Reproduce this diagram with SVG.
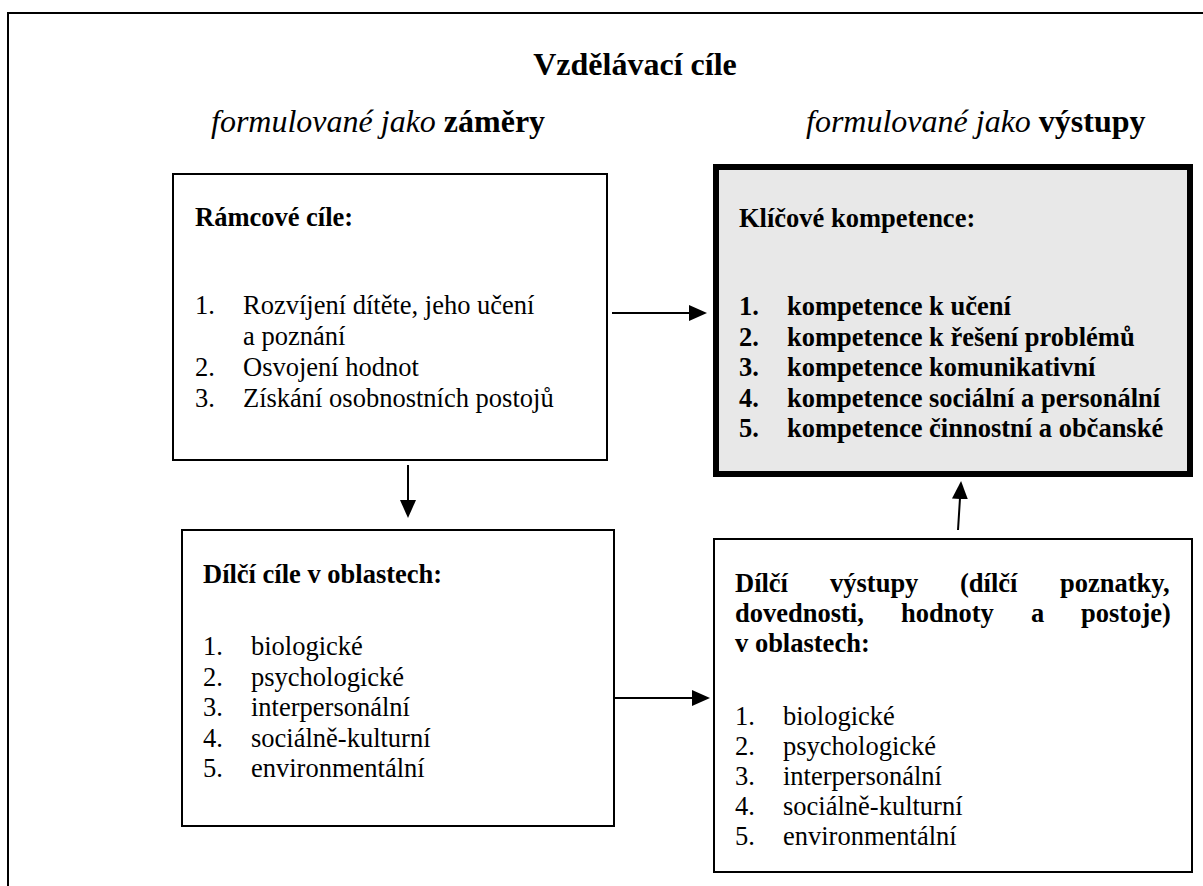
<svg xmlns="http://www.w3.org/2000/svg" width="1203" height="886" viewBox="0 0 1203 886">
  <style>
    text { font-family: "Liberation Serif", "Times New Roman", serif; fill: #000; }
    .t { font-size: 32px; }
    .b { font-size: 26.5px; font-weight: bold; }
    .r { font-size: 26.5px; }
    .box { fill: #fff; stroke: #000; stroke-width: 2; }
    .key { fill: #e8e8e8; stroke: #000; stroke-width: 6; }
    .conn { stroke: #000; stroke-width: 2; fill: none; }
  </style>
  <defs>
    <marker id="ah" viewBox="0 0 18 16" refX="1" refY="8" markerWidth="18" markerHeight="16" markerUnits="userSpaceOnUse" orient="auto">
      <path d="M0,0 L18,8 L0,16 Z" fill="#000"/>
    </marker>
  </defs>
  <rect width="1203" height="886" fill="#fff"/>
  <path d="M8,890 V13 H1210" fill="none" stroke="#000" stroke-width="2"/>

  <g id="title">
    <text class="t" x="635" y="75" text-anchor="middle" font-weight="bold">Vzdělávací cíle</text>
    <text class="t" x="211" y="132"><tspan font-style="italic">formulované jako </tspan><tspan font-weight="bold">záměry</tspan></text>
    <text class="t" x="806" y="132"><tspan font-style="italic">formulované jako </tspan><tspan font-weight="bold">výstupy</tspan></text>
  </g>

  <g id="ramcove-cile">
    <rect class="box" x="173" y="174" width="434" height="286"/>
    <text class="b" x="195" y="226">Rámcové cíle:</text>
    <text class="r" x="195" y="314">1.</text><text class="r" x="243" y="314">Rozvíjení dítěte, jeho učení</text>
    <text class="r" x="243" y="345">a poznání</text>
    <text class="r" x="195" y="376">2.</text><text class="r" x="243" y="376">Osvojení hodnot</text>
    <text class="r" x="195" y="407">3.</text><text class="r" x="243" y="407">Získání osobnostních postojů</text>
  </g>

  <g id="klicove-kompetence">
    <rect class="key" x="716" y="167" width="474" height="307"/>
    <text class="b" x="739" y="227">Klíčové kompetence:</text>
    <text class="b" x="739" y="315">1.</text><text class="b" x="787" y="315">kompetence k učení</text>
    <text class="b" x="739" y="345.5">2.</text><text class="b" x="787" y="345.5">kompetence k řešení problémů</text>
    <text class="b" x="739" y="376">3.</text><text class="b" x="787" y="376">kompetence komunikativní</text>
    <text class="b" x="739" y="406.5">4.</text><text class="b" x="787" y="406.5">kompetence sociální a personální</text>
    <text class="b" x="739" y="437">5.</text><text class="b" x="787" y="437">kompetence činnostní a občanské</text>
  </g>

  <g id="dilci-cile">
    <rect class="box" x="182" y="530" width="432" height="296"/>
    <text class="b" x="203" y="583">Dílčí cíle v oblastech:</text>
    <text class="r" x="203" y="655">1.</text><text class="r" x="251" y="655">biologické</text>
    <text class="r" x="203" y="685.5">2.</text><text class="r" x="251" y="685.5">psychologické</text>
    <text class="r" x="203" y="716">3.</text><text class="r" x="251" y="716">interpersonální</text>
    <text class="r" x="203" y="746.5">4.</text><text class="r" x="251" y="746.5">sociálně-kulturní</text>
    <text class="r" x="203" y="777">5.</text><text class="r" x="251" y="777">environmentální</text>
  </g>

  <g id="dilci-vystupy">
    <rect class="box" x="714" y="539" width="478" height="333"/>
    <text class="b" y="592"><tspan x="735">Dílčí</tspan><tspan x="830">výstupy</tspan><tspan x="960">(dílčí</tspan><tspan x="1060">poznatky,</tspan></text>
    <text class="b" y="622"><tspan x="735">dovednosti,</tspan><tspan x="901">hodnoty</tspan><tspan x="1031">a</tspan><tspan x="1081">postoje)</tspan></text>
    <text class="b" x="735" y="652">v oblastech:</text>
    <text class="r" x="735" y="725">1.</text><text class="r" x="783" y="725">biologické</text>
    <text class="r" x="735" y="755">2.</text><text class="r" x="783" y="755">psychologické</text>
    <text class="r" x="735" y="785">3.</text><text class="r" x="783" y="785">interpersonální</text>
    <text class="r" x="735" y="815">4.</text><text class="r" x="783" y="815">sociálně-kulturní</text>
    <text class="r" x="735" y="845">5.</text><text class="r" x="783" y="845">environmentální</text>
  </g>

  <g id="connectors">
    <line class="conn" x1="612" y1="313" x2="690" y2="313" marker-end="url(#ah)"/>
    <line class="conn" x1="408" y1="465" x2="408" y2="501" marker-end="url(#ah)"/>
    <line class="conn" x1="614" y1="698" x2="693" y2="698" marker-end="url(#ah)"/>
    <line class="conn" x1="958" y1="530" x2="960" y2="498" marker-end="url(#ah)"/>
  </g>
</svg>
